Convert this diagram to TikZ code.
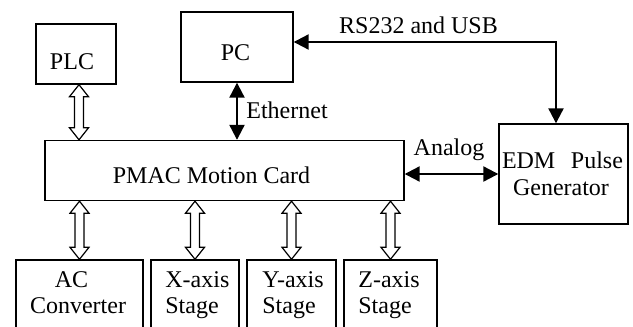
\documentclass[tikz,border=0pt]{standalone}
\usepackage{fontspec}
\setmainfont{Liberation Serif}
\usetikzlibrary{arrows.meta,calc}

\tikzset{
  box/.style={draw, line width=0.7pt, inner sep=0pt},
  txt/.style={inner sep=0pt, anchor=base},
  ltxt/.style={inner sep=0pt, anchor=base west},
  link/.style={line width=1.1pt, {Triangle[length=7.5pt,width=7.5pt]}-{Triangle[length=7.5pt,width=7.5pt]}}
}
% hollow double arrow from upper tip #1 to lower tip #2
\newcommand{\hollowarrow}[2]{%
  \draw[line width=0.6pt, fill=white] let \p1=(#1), \p2=(#2) in
    (\x1,\y1) -- (\x1+4.75pt,\y1-6pt) -- (\x1+2.25pt,\y1-6pt) -- (\x1+2.25pt,\y2+6pt)
    -- (\x1+4.75pt,\y2+6pt) -- (\x1,\y2) -- (\x1-4.75pt,\y2+6pt) -- (\x1-2.25pt,\y2+6pt)
    -- (\x1-2.25pt,\y1-6pt) -- (\x1-4.75pt,\y1-6pt) -- cycle;}

\begin{document}
\begin{tikzpicture}[x=0.5pt, y=-0.5pt, font=\fontsize{12}{14.4}\selectfont]
    \useasboundingbox (0,0) rectangle (633,327);
    \clip (0,0) rectangle (633,327);

    \node[box, minimum width=40pt, minimum height=30pt] (plc) at (76,54) {};
    \node[box, minimum width=56pt, minimum height=35pt] (pc) at (237,47) {};
    \node[box, minimum width=179.5pt, minimum height=30pt] (pmac) at (224.5,170.5) {};
    \node[box, minimum width=64.5pt, minimum height=50pt] (edm) at (563.5,174) {};
    \node[box, minimum width=63.5pt, minimum height=45pt] (acconv) at (79.5,305) {};
    \node[box, minimum width=44pt, minimum height=45pt] (xstage) at (195,305) {};
    \node[box, minimum width=44.5pt, minimum height=45pt] (ystage) at (291.5,305) {};
    \node[box, minimum width=46.5pt, minimum height=45pt] (zstage) at (390.5,305) {};

    \node[txt] (plctxt) at (72,69) {PLC};
    \node[txt] (pctxt) at (235.5,60) {PC};
    \node[txt] (pmactxt) at (211.5,183) {PMAC Motion Card};
    \node[txt] (edmtxt) at (562.5,168) {\makebox[60.5pt][s]{EDM Pulse}};
    \node[txt] (gentxt) at (561,195) {Generator};
    \node[txt] (actxt) at (71.5,287) {AC};
    \node[txt] (convtxt) at (78,313) {Converter};
    \node[ltxt] (xtxt) at (165,287) {X-axis};
    \node[ltxt] (xstxt) at (165,313) {Stage};
    \node[ltxt] (ytxt) at (262,287) {Y-axis};
    \node[ltxt] (ystxt) at (262,313) {Stage};
    \node[ltxt] (ztxt) at (358,287) {Z-axis};
    \node[ltxt] (zstxt) at (358,313) {Stage};

    \coordinate (bend) at (556,42);
    \draw[link] (pc.east |- bend) -- (bend) -- (bend |- edm.north);
    \node[txt] (rslbl) at (418.5,33) {RS232 and USB};
    \draw[link] (pc.south) -- (pc.south |- pmac.north);
    \node[ltxt] (ethlbl) at (246,118) {Ethernet};
    \draw[link] (pmac.east |- edm.west) -- (edm.west);
    \node[txt] (anlbl) at (449,155) {Analog};

    \hollowarrow{[xshift=1.5pt]plc.south}{[xshift=1.5pt]plc.south |- pmac.north}
    \foreach \b in {acconv,xstage,ystage,zstage}
        \hollowarrow{\b.north |- pmac.south}{\b.north};
\end{tikzpicture}
\end{document}
